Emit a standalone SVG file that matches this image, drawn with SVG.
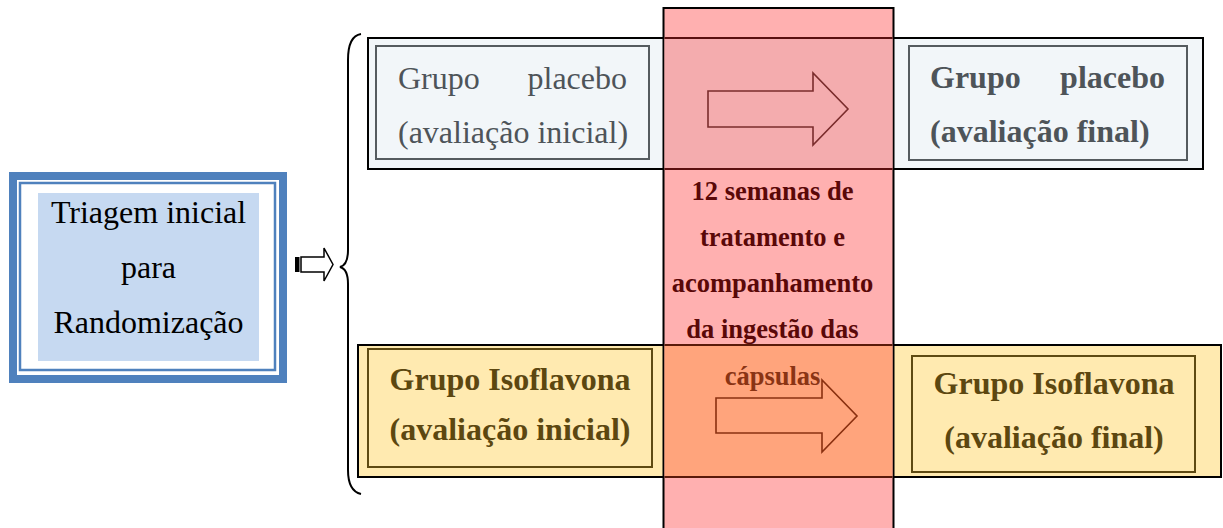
<svg xmlns="http://www.w3.org/2000/svg" width="1223" height="528" viewBox="0 0 1223 528">
<style>
  text { font-family: "Liberation Serif", "Times New Roman", serif; }
  .t32 { font-size: 32px; }
  .t27 { font-size: 26.5px; font-weight: bold; }
  .gray { fill: #4e5459; }
  .olive { fill: #5c4710; font-weight: bold; }
  .maroon { fill: #5a0808; }
  .band { stroke: #000; stroke-width: 2; }
  .inner-gray { fill: none; stroke: #555b5f; stroke-width: 2; }
  .inner-olive { fill: none; stroke: #5e4a12; stroke-width: 2; }
  .blockarrow { fill: none; stroke-width: 1.6; stroke-linejoin: miter; }
</style>
<rect width="1223" height="528" fill="#fff"/>

<!-- Triagem node -->
<g id="triagem">
  <rect x="13" y="176" width="270" height="203" fill="#fff" stroke="#4f81bd" stroke-width="8"/>
  <rect x="20" y="183" width="255" height="187" fill="none" stroke="#4f81bd" stroke-width="2.5"/>
  <rect x="38" y="193" width="221" height="168" fill="#c6d9f1"/>
  <text class="t32" x="148.5" y="223" text-anchor="middle" fill="#000">Triagem inicial</text>
  <text class="t32" x="148.5" y="278" text-anchor="middle" fill="#000">para</text>
  <text class="t32" x="148.5" y="333" text-anchor="middle" fill="#000">Randomização</text>
</g>

<!-- Placebo band -->
<g id="banda-placebo">
  <rect class="band" x="368" y="38" width="835" height="131" fill="#f2f6f9"/>
</g>
<g id="placebo-inicial">
  <rect class="inner-gray" x="376" y="46" width="273" height="113"/>
  <text class="t32 gray" x="398" y="89">Grupo</text>
  <text class="t32 gray" x="627" y="89" text-anchor="end">placebo</text>
  <text class="t32 gray" x="398" y="143">(avaliação inicial)</text>
</g>
<g id="placebo-final">
  <rect class="inner-gray" x="909" y="46" width="278" height="114"/>
  <text class="t32 gray" x="930" y="88" font-weight="bold">Grupo</text>
  <text class="t32 gray" x="1165" y="88" text-anchor="end" font-weight="bold">placebo</text>
  <text class="t32 gray" x="930" y="142" font-weight="bold">(avaliação final)</text>
</g>

<!-- Isoflavona band -->
<g id="banda-isoflavona">
  <rect class="band" x="358" y="345" width="863" height="132" fill="#ffeab0"/>
</g>
<g id="iso-inicial">
  <rect class="inner-olive" x="368" y="349" width="284" height="118"/>
  <text class="t32 olive" x="510" y="390" text-anchor="middle">Grupo Isoflavona</text>
  <text class="t32 olive" x="510" y="440" text-anchor="middle">(avaliação inicial)</text>
</g>
<g id="iso-final">
  <rect class="inner-olive" x="912" y="356" width="283" height="116"/>
  <text class="t32 olive" x="1054" y="394" text-anchor="middle">Grupo Isoflavona</text>
  <text class="t32 olive" x="1054" y="448" text-anchor="middle">(avaliação final)</text>
</g>

<!-- Treatment column -->
<g id="tratamento">
  <rect x="663.5" y="8" width="230" height="530" fill="#ffb0b0" stroke="#000" stroke-width="2"/>
  <rect x="664.5" y="39" width="228" height="129" fill="#f4acae"/>
  <rect x="664.5" y="346" width="228" height="130" fill="#ffa47c"/>
  <line x1="664.5" y1="38" x2="892.5" y2="38" stroke="#5a1010" stroke-width="2"/>
  <line x1="664.5" y1="169" x2="892.5" y2="169" stroke="#5a1010" stroke-width="2"/>
  <line x1="664.5" y1="345" x2="892.5" y2="345" stroke="#5a1a0a" stroke-width="2"/>
  <line x1="664.5" y1="477" x2="892.5" y2="477" stroke="#5a1a0a" stroke-width="2"/>
  <text class="t27 maroon" x="772.5" y="200" text-anchor="middle">12 semanas de</text>
  <text class="t27 maroon" x="772.5" y="246" text-anchor="middle">tratamento e</text>
  <text class="t27 maroon" x="772.5" y="292" text-anchor="middle">acompanhamento</text>
  <text class="t27 maroon" x="772.5" y="338" text-anchor="middle">da ingestão das</text>
  <text class="t27" x="772.5" y="385" text-anchor="middle" fill="#8a3414">cápsulas</text>
</g>

<!-- Connectors -->
<g id="connectors">
  <path d="M361 34 Q348 36 348 60 L348 250 Q348 265 340 267 Q348 269 348 284 L348 470 Q348 491 361 494" fill="none" stroke="#000" stroke-width="2"/>
  <rect x="295" y="257" width="4.5" height="15" fill="#000"/>
  <polygon points="301,257 324,257 324,248 333,264.5 324,281 324,272 301,272" fill="#fff" stroke="#000" stroke-width="1.5"/>
  <polygon class="blockarrow" points="708,91 813,91 813,73 848,109 813,145 813,127 708,127" stroke="#7a2c2c"/>
  <polygon class="blockarrow" points="716,398 822,398 822,380 857,416 822,452 822,433 716,433" stroke="#8a3010"/>
</g>
</svg>
